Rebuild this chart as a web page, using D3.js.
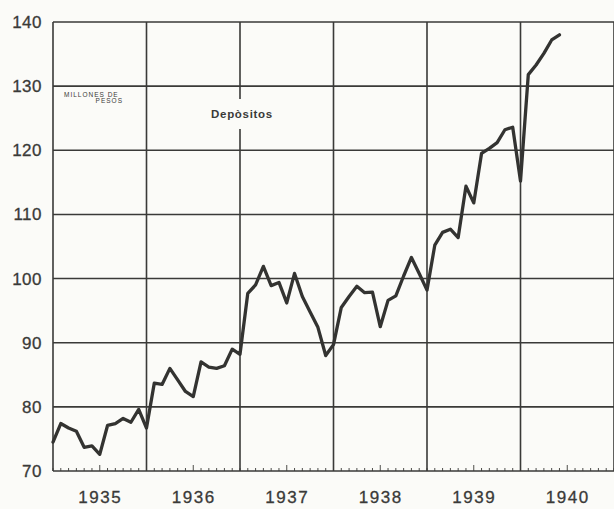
<!DOCTYPE html>
<html>
<head>
<meta charset="utf-8">
<script src="https://cdn.jsdelivr.net/npm/d3@7/dist/d3.min.js"></script>
<style>
  html, body { margin: 0; padding: 0; background: #fbfbf8; }
  svg { display: block; }
</style>
</head>
<body>
<svg id="chart" width="614" height="509"></svg>
<script>
// ---- data (monthly, Jan 1935 – Jun 1940) ----
const years = [1935, 1936, 1937, 1938, 1939, 1940];
const yTicks = [70, 80, 90, 100, 110, 120, 130, 140];
const deposits1935 = [74.5, 77.4, 76.7, 76.2, 73.7, 73.9, 72.6, 77.1, 77.4, 78.2, 77.6, 79.6];
const deposits1936 = [76.7, 83.7, 83.5, 86.0, 84.2, 82.4, 81.6, 87.0, 86.2, 86.0, 86.4, 89.0];
const deposits1937 = [88.2, 97.7, 99.0, 101.9, 98.9, 99.4, 96.2, 100.8, 97.2, 94.8, 92.4, 88.0];
const deposits1938 = [89.7, 95.5, 97.2, 98.8, 97.8, 97.9, 92.5, 96.6, 97.3, 100.4, 103.3, 100.8];
const deposits1939 = [98.2, 105.2, 107.2, 107.7, 106.4, 114.4, 111.8, 119.5, 120.3, 121.2, 123.2, 123.6];
const deposits1940 = [115.2, 131.8, 133.3, 135.1, 137.2, 138.0];
const deposits = [].concat(deposits1935, deposits1936, deposits1937, deposits1938, deposits1939, deposits1940);
const unitLabel = ["MILLONES DE", "PESOS"];
const seriesLabel = "Depòsitos";

(function () {
// ---- layout ----
const svg = d3.select("#chart");
const mLeft = 53, mRight = 614, mTop = 22, mBottom = 471;
const ink = "#3a3a38";

const x = d3.scaleLinear().domain([0, years.length * 12]).range([mLeft, mRight]);
const y = d3.scaleLinear().domain([70, 140]).range([mBottom, mTop]);

const g = svg.append("g");

// horizontal gridlines
g.selectAll("line.h").data(yTicks).join("line").attr("class", "h")
  .attr("x1", mLeft).attr("x2", mRight)
  .attr("y1", d => y(d)).attr("y2", d => y(d))
  .attr("stroke", ink).attr("stroke-width", 1.6);

// vertical year lines
const yearBounds = d3.range(0, years.length + 1).map(i => i * 12);
g.selectAll("line.v").data(yearBounds).join("line").attr("class", "v")
  .attr("x1", d => x(d)).attr("x2", d => x(d))
  .attr("y1", mTop).attr("y2", mBottom)
  .attr("stroke", ink).attr("stroke-width", 1.6);

// minor monthly ticks along baseline (inward)
const months = d3.range(0, years.length * 12 + 1);
g.selectAll("line.m").data(months).join("line").attr("class", "m")
  .attr("x1", d => x(d)).attr("x2", d => x(d))
  .attr("y1", mBottom).attr("y2", d => mBottom - (d % 12 === 6 ? 6 : 3))
  .attr("stroke", ink).attr("stroke-width", 0.9);

// y axis labels
const yAxis = d3.axisLeft(y).tickValues(yTicks).tickSize(0).tickPadding(11);
const ya = svg.append("g").attr("transform", `translate(${mLeft},0)`).call(yAxis);
ya.select(".domain").remove();
ya.selectAll("text")
  .attr("font-family", "'Liberation Sans', Arial, sans-serif")
  .attr("font-size", 17).attr("fill", ink).attr("letter-spacing", 0.5)
  .attr("stroke", ink).attr("stroke-width", 0.3);

// x axis year labels (centered in each year)
const xAxis = d3.axisBottom(x).tickValues(years.map((d, i) => i * 12 + 6))
  .tickFormat((d, i) => years[i]).tickSize(0).tickPadding(20);
const xa = svg.append("g").attr("transform", `translate(0,${mBottom})`).call(xAxis);
xa.select(".domain").remove();
xa.selectAll("text")
  .attr("font-family", "'Liberation Sans', Arial, sans-serif")
  .attr("font-size", 17).attr("fill", ink).attr("letter-spacing", 1.5)
  .attr("stroke", ink).attr("stroke-width", 0.3);

// series label with background interrupting gridline
const lx = 242, ly = 114;
svg.append("rect").attr("x", lx - 38).attr("y", 99).attr("width", 76).attr("height", 30)
  .attr("fill", "#fbfbf8");
svg.append("text").attr("x", lx).attr("y", ly).attr("dy", "0.35em")
  .attr("text-anchor", "middle")
  .attr("font-family", "'Liberation Sans', Arial, sans-serif")
  .attr("font-weight", "bold").attr("font-size", 11.5).attr("letter-spacing", 0.7)
  .attr("fill", ink).text(seriesLabel);

// unit label (tiny)
svg.append("text").attr("x", 64).attr("y", 97)
  .attr("font-family", "'Liberation Sans', Arial, sans-serif")
  .attr("font-size", 6.5).attr("letter-spacing", 1).attr("fill", ink).text(unitLabel[0]);
svg.append("text").attr("x", 123).attr("y", 103).attr("text-anchor", "end")
  .attr("font-family", "'Liberation Sans', Arial, sans-serif")
  .attr("font-size", 6.5).attr("letter-spacing", 1).attr("fill", ink).text(unitLabel[1]);

// the series line
const line = d3.line().x((d, i) => x(i)).y(d => y(d)).curve(d3.curveLinear);
svg.append("path").datum(deposits)
  .attr("d", line).attr("fill", "none")
  .attr("stroke", "#333331").attr("stroke-width", 3.3)
  .attr("stroke-linejoin", "round").attr("stroke-linecap", "round");
})();
</script>
</body>
</html>
